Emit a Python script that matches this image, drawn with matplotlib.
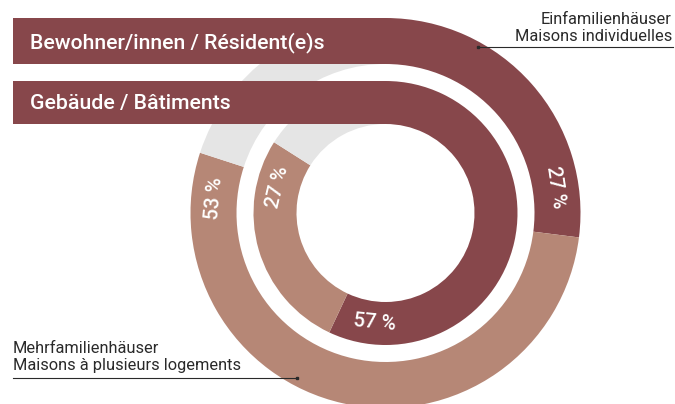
import matplotlib.pyplot as plt
import numpy as np

# Data (percent shares)
ring_names = ["Bewohner/innen / Résident(e)s", "Gebäude / Bâtiments"]
outer_vals = [27, 53]   # Bewohner/innen: Einfamilienhäuser, Mehrfamilienhäuser
inner_vals = [57, 27]   # Gebäude: Einfamilienhäuser, Mehrfamilienhäuser
cat_labels = ["Einfamilienhäuser\nMaisons individuelles",
              "Mehrfamilienhäuser\nMaisons à plusieurs logements"]

# Colours
DARK = "#87474b"
LIGHT = "#b68776"
GREY = "#e5e5e5"

# Geometry in pixels (y measured upwards)
W, H = 675, 404
cx, cy = 385.5, H - 213
R_out, w_out = 195, 46
R_in, w_in = 132, 43
bar_left = 13

# label angles (deg clockwise from 12 o'clock) for the percent texts
outer_lab_ang = [81.5, 275]
inner_lab_ang = [185.5, 283.5]

plt.rcParams['font.family'] = ['Roboto', 'DejaVu Sans']

fig = plt.figure(figsize=(W / 100, H / 100), dpi=100)
ax = fig.add_axes([0, 0, 1, 1])

def ring(vals, R, w, angs):
    rest = 100 - sum(vals)
    ax.pie(vals + [rest], radius=R, center=(cx, cy), startangle=90,
           counterclock=False, colors=[DARK, LIGHT, GREY],
           wedgeprops=dict(width=w, linewidth=0))
    rm = R - w / 2
    for v, a in zip(vals, angs):
        t = np.deg2rad(a)
        x, y = cx + rm * np.sin(t), cy + rm * np.cos(t)
        rot = -a
        while rot < -90:
            rot += 180
        while rot > 90:
            rot -= 180
        ax.text(x, y, f"{v} %", color='white', fontsize=14.5, fontweight='medium',
                rotation=rot, rotation_mode='anchor', ha='center', va='center')

ring(outer_vals, R_out, w_out, outer_lab_ang)
ring(inner_vals, R_in, w_in, inner_lab_ang)

# header bars running into the top of each ring
bar_y = [cy + R_out - w_out / 2, cy + R_in - w_in / 2]
ax.barh(bar_y, cx - bar_left, left=bar_left, height=[w_out, w_in],
        color=DARK, linewidth=0)
for y, name in zip(bar_y, ring_names):
    ax.text(bar_left + 17, y - 1.5, name, color='white', fontsize=15.3,
            fontweight='medium', ha='left', va='center')

# category call-outs
ax.text(672, H - 28, cat_labels[0], ha='right', va='center', fontsize=11.8,
        color='#2a2a2a', linespacing=1.18)
ax.plot([478, 673], [H - 47, H - 47], color='#2a2a2a', lw=0.8)
ax.plot([478], [H - 47], 's', color='#2a2a2a', ms=2)

ax.text(13, H - 357, cat_labels[1], ha='left', va='center', fontsize=11.8,
        color='#2a2a2a', linespacing=1.18)
ax.plot([13, 297], [H - 378, H - 378], color='#2a2a2a', lw=0.8)
ax.plot([297], [H - 378], 's', color='#2a2a2a', ms=2)

ax.set_xlim(0, W)
ax.set_ylim(0, H)
ax.set_aspect('equal')
ax.axis('off')

fig.savefig('out.png', dpi=100)
